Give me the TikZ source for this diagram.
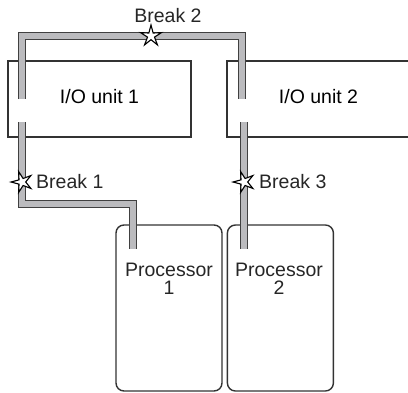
\documentclass[tikz,border=0pt]{standalone}
\usepackage{fontspec}
\setmainfont{Liberation Sans}
\usetikzlibrary{positioning,shapes.geometric}
\definecolor{cablefill}{HTML}{BBBBBE}
\definecolor{edge}{HTML}{333333}
\tikzset{
  unit/.style  = {draw=edge, line width=1.4pt, minimum width=183pt, minimum height=76pt,
                  inner sep=0pt, text height=14pt, text depth=5.4pt},
  proc/.style  = {draw=edge, line width=1.4pt, rounded corners=8pt, minimum width=106pt,
                  minimum height=166pt, inner sep=0pt},
  cable/.style = {draw=black!75, line width=0.9pt, double=cablefill, double distance=6.6pt},
  brk/.style   = {star, star points=5, star point ratio=3, draw=black, fill=white,
                  line width=1.1pt, minimum size=22pt, inner sep=0pt},
  lbl/.style   = {inner sep=0pt, text=black!85, align=center},
}

\begin{document}
\begin{tikzpicture}[x=1pt, y=-1pt, node distance=4pt,
  font=\fontsize{19.5pt}{18.3pt}\selectfont]
  \useasboundingbox (0,0) rectangle (408,392);
  \clip (0,0) rectangle (408,392);
  % units and processors
  \node[unit] (io1) at (99.5,99) {I/O unit 1};
  \node[unit] (io2) at (318.5,99) {I/O unit 2};
  \node[proc] (proc1) at (169,308) {};
  \node[proc, right=of proc1] (proc2) {};
  \node[lbl, anchor=north] (t1) at (169,262.7) {Processor\\1};
  \node[lbl, anchor=north] (t2) at (279,262.7) {Processor\\2};
  % cable end points and bends
  \coordinate (l1) at (22,99);   \coordinate (r1) at (242,99);
  \coordinate (tl) at (22,36);   \coordinate (tr) at (242,36);
  \coordinate (l2) at (22,122);  \coordinate (bend) at (22,204);
  \coordinate (p1in) at (133,249);
  \coordinate (r2) at (244,122); \coordinate (p2in) at (244,249);
  \draw[cable] (l1) -- (tl) -- (tr) -- (r1);
  \draw[cable] (l2) -- (bend) -| (p1in);
  \draw[cable] (r2) -- (p2in);
  % breaks
  \node[brk] (b2) at (151,36) {};
  \node[brk, rotate=90] (b1) at (22,182) {};
  \node[brk, rotate=90] (b3) at (244,182) {};
  \node[lbl, anchor=base] (lb2) at (168,22.7) {Break 2};
  \node[lbl, anchor=base west] (lb1) at (36,188.3) {Break 1};
  \node[lbl, anchor=base west] (lb3) at (259,188.3) {Break 3};
\end{tikzpicture}
\end{document}
